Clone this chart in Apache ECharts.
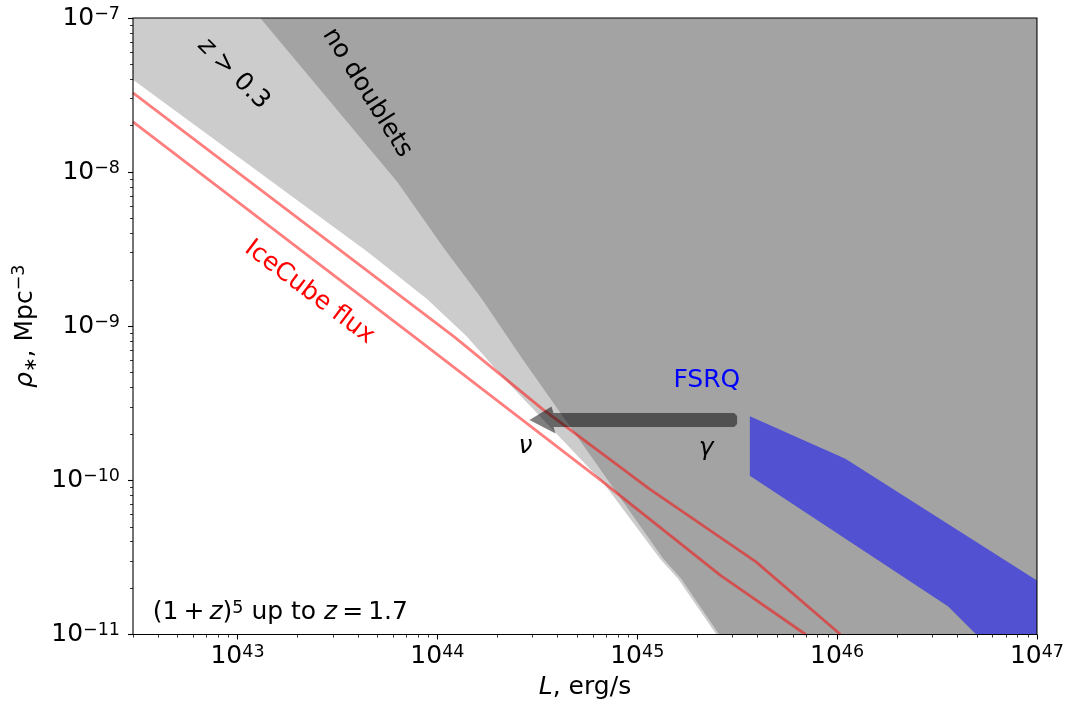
<!DOCTYPE html>
<html><head><meta charset="utf-8">
<script src="https://cdn.jsdelivr.net/npm/echarts@6/dist/echarts.min.js"></script>
<style>html,body{margin:0;padding:0;background:#fff}#c{width:1067px;height:705px}</style>
</head><body><div id="c"></div>
<script>
// ---- axis ranges & ticks ----
const xMin = 3e42, xMax = 1e47, yMin = 1e-11, yMax = 1e-7;
const xMajorTicks = [1e43, 1e44, 1e45, 1e46, 1e47];
const yMajorTicks = [1e-11, 1e-10, 1e-9, 1e-8, 1e-7];
const minorMultipliers = [2, 3, 4, 5, 6, 7, 8, 9];

// ---- data (L in erg/s, rho in Mpc^-3) ----
const redshiftBoundary = [[3e42,3.97e-8],[3.15e43,4.25e-9],[4.45e43,3.05e-9],[8.87e43,1.50e-9],[1.40e44,8.61e-10],[2.17e44,4.54e-10],[6.84e44,9.48e-11],[1.30e45,3.10e-11],[1.60e45,2.30e-11],[2.49e45,1e-11]];
const noDoubletsBoundary = [[1.30e43,1e-7],[6.28e43,8.69e-9],[1.09e44,3.15e-9],[1.67e44,1.50e-9],[2.67e44,6.11e-10],[1.35e45,3.10e-11],[1.66e45,2.30e-11],[2.57e45,1e-11]];
const iceCubeUpper = [[3e42,3.27e-8],[1.22e44,8.49e-10],[3.36e44,2.90e-10],[1.15e45,8.8e-11],[3.93e45,2.96e-11],[1.04e46,1e-11]];
const iceCubeLower = [[3e42,2.12e-8],[8.18e43,8.0e-10],[6.46e44,1.02e-10],[2.62e45,2.41e-11],[6.97e45,1e-11]];
const fsrqUpper = [[3.66e45,2.61e-10],[1.10e46,1.38e-10],[1e47,2.24e-11],[1e47,1e-11]];
const fsrqLower = [[3.66e45,1.07e-10],[3.60e46,1.52e-11],[4.97e46,1e-11]];
const arrowGammaToNu = { fromL: 3.16e45, toL: 2.89e44, rho: 2.46e-10 };

// annotation anchors (data coords)
const annotations = [
  { key: 'z03', L: 9.55e42, rho: 4.35e-8 },
  { key: 'nodoub', L: 4.45e43, rho: 3.27e-8 },
  { key: 'icecube', L: 2.29e43, rho: 1.66e-9 },
  { key: 'fsrq', L: 2.23e45, rho: 4.47e-10 },
  { key: 'nu', L: 2.76e44, rho: 1.67e-10 },
  { key: 'gamma', L: 2.21e45, rho: 1.62e-10 },
  { key: 'evol', L: 3.77e42, rho: 1.39e-11 }
];

const F = 'DejaVu Sans';
function minorTicks(lo, hi) {
  const out = [];
  for (let e = Math.floor(Math.log10(lo)); e < Math.ceil(Math.log10(hi)); e++) {
    for (const m of minorMultipliers) {
      const v = m * Math.pow(10, e);
      if (v >= lo * 0.9999 && v <= hi * 1.0001) out.push(v);
    }
  }
  return out;
}
const xMinor = minorTicks(xMin, xMax);
const yMinor = minorTicks(yMin, yMax);

const labelRich = {
  b: { fontSize: 25, fontFamily: F, color: '#000', lineHeight: 26 },
  s: { fontSize: 17.5, fontFamily: F, color: '#000', lineHeight: 16, verticalAlign: 'top' }
};
function powLabel(v) {
  const e = Math.round(Math.log10(v));
  return '{b|10}{s|' + (e < 0 ? '\u2212' + (-e) : e) + '}';
}
const tickStyle = { color: '#000', width: 1.1 };

function polySeries(pointsFn, color, z) {
  return {
    type: 'custom', coordinateSystem: 'cartesian2d', xAxisIndex: 0, yAxisIndex: 0,
    silent: true, z: z, data: [[xMin, yMin]],
    renderItem: (params, api) => ({
      type: 'polygon',
      shape: { points: pointsFn().map(p => api.coord(p)) },
      style: { fill: color }
    })
  };
}

const txt = (extra) => Object.assign({ fontFamily: F, fontSize: 25, fill: '#000', align: 'center', verticalAlign: 'middle' }, extra);
const italic = { fontFamily: F, fontSize: 25, fontStyle: 'italic' };
const normal = { fontFamily: F, fontSize: 25 };

const option = {
  animation: false,
  textStyle: { fontFamily: F },
  grid: { left: 133, right: 27, top: 18, bottom: 69, show: true, borderColor: '#000', borderWidth: 1.1, backgroundColor: 'transparent', z: 20 },
  xAxis: [
    { type: 'log', logBase: 10, min: xMin, max: xMax, position: 'bottom',
      axisLine: { show: false },
      axisTick: { show: true, customValues: xMajorTicks, length: 5, lineStyle: tickStyle },
      axisLabel: { show: true, customValues: xMajorTicks, formatter: powLabel, margin: 9, rich: labelRich },
      splitLine: { show: false }, minorTick: { show: false }, minorSplitLine: { show: false },
      name: '{i|L}{n|, erg/s}', nameLocation: 'middle', nameGap: 40,
      nameTextStyle: { rich: { i: Object.assign({ color: '#000', lineHeight: 26 }, italic), n: Object.assign({ color: '#000', lineHeight: 26 }, normal) } }
    },
    { type: 'log', logBase: 10, min: xMin, max: xMax, position: 'bottom',
      axisLine: { show: false },
      axisTick: { show: true, customValues: xMinor, length: 3, lineStyle: { color: '#000', width: 0.8 } },
      axisLabel: { show: false }, splitLine: { show: false }
    }
  ],
  yAxis: [
    { type: 'log', logBase: 10, min: yMin, max: yMax, position: 'left',
      axisLine: { show: false },
      axisTick: { show: true, customValues: yMajorTicks, length: 5, lineStyle: tickStyle },
      axisLabel: { show: true, customValues: yMajorTicks, formatter: powLabel, margin: 13, rich: labelRich },
      splitLine: { show: false }, minorTick: { show: false }, minorSplitLine: { show: false },
      name: '{i|\u03c1}{sub|\u2217}{n|, Mpc}{sup|\u22123}', nameLocation: 'middle', nameGap: 88, nameRotate: 90,
      nameTextStyle: { rich: {
        i: Object.assign({ color: '#000', lineHeight: 30 }, italic),
        sub: { fontFamily: F, fontSize: 17.5, color: '#000', lineHeight: 18, verticalAlign: 'bottom' },
        n: Object.assign({ color: '#000', lineHeight: 30 }, normal),
        sup: { fontFamily: F, fontSize: 17.5, color: '#000', lineHeight: 18, verticalAlign: 'top' }
      } }
    },
    { type: 'log', logBase: 10, min: yMin, max: yMax, position: 'left',
      axisLine: { show: false },
      axisTick: { show: true, customValues: yMinor, length: 3, lineStyle: { color: '#000', width: 0.8 } },
      axisLabel: { show: false }, splitLine: { show: false }
    }
  ],
  series: [
    polySeries(() => redshiftBoundary.concat([[xMax, yMin], [xMax, yMax], [xMin, yMax]]), '#cccccc', 1),
    polySeries(() => noDoubletsBoundary.concat([[xMax, yMin], [xMax, yMax]]), '#a3a3a3', 2),
    polySeries(() => fsrqUpper.concat(fsrqLower.slice().reverse()), 'rgba(0,0,255,0.5)', 3),
    { type: 'line', data: iceCubeUpper, xAxisIndex: 0, yAxisIndex: 0, symbol: 'none', silent: true, z: 4,
      lineStyle: { color: 'rgba(255,0,0,0.5)', width: 2.8 } },
    { type: 'line', data: iceCubeLower, xAxisIndex: 0, yAxisIndex: 0, symbol: 'none', silent: true, z: 4,
      lineStyle: { color: 'rgba(255,0,0,0.5)', width: 2.8 } },
    { type: 'custom', coordinateSystem: 'cartesian2d', xAxisIndex: 0, yAxisIndex: 0, silent: true, z: 5,
      data: [[arrowGammaToNu.fromL, arrowGammaToNu.rho]],
      renderItem: (params, api) => {
        const tip = api.coord([arrowGammaToNu.toL, arrowGammaToNu.rho]);
        const tail = api.coord([arrowGammaToNu.fromL, arrowGammaToNu.rho]);
        const y = tip[1], bh = 7, hh = 13.5, hl = 24;
        const hx = tip[0] + hl;
        return { type: 'polygon', shape: { points: [
          [tip[0], y], [hx - 2, y - hh], [hx, y - bh], [tail[0] - 3, y - bh], [tail[0], y - bh + 3],
          [tail[0], y + bh - 3], [tail[0] - 3, y + bh], [hx, y + bh], [hx + 2, y + hh]
        ] }, style: { fill: 'rgba(0,0,0,0.5)' } };
      }
    },
    { type: 'custom', coordinateSystem: 'cartesian2d', xAxisIndex: 0, yAxisIndex: 0, silent: true, z: 6,
      data: [[xMin, yMin]],
      renderItem: (params, api) => {
        const pos = {};
        annotations.forEach(a => { pos[a.key] = api.coord([a.L, a.rho]); });
        const deg = d => d * Math.PI / 180;
        const children = [
          { type: 'text', x: pos.z03[0], y: pos.z03[1], rotation: deg(-45),
            style: txt({ text: '{i|z}{n| > 0.3}', rich: { i: italic, n: normal } }) },
          { type: 'text', x: pos.nodoub[0], y: pos.nodoub[1], rotation: deg(-58),
            style: txt({ text: 'no doublets' }) },
          { type: 'text', x: pos.icecube[0], y: pos.icecube[1], rotation: deg(-37),
            style: txt({ text: 'IceCube flux', fill: '#ff0000' }) },
          { type: 'text', x: pos.fsrq[0], y: pos.fsrq[1],
            style: txt({ text: 'FSRQ', fill: '#0000ff' }) },
          { type: 'text', x: pos.nu[0], y: pos.nu[1],
            style: txt({ text: '\u03bd', fontStyle: 'italic' }) },
          { type: 'text', x: pos.gamma[0], y: pos.gamma[1],
            style: txt({ text: '\u03b3', fontStyle: 'italic' }) },
          { type: 'text', x: pos.evol[0], y: pos.evol[1],
            style: txt({ align: 'left', text: '{n|(1\u2009+\u2009}{i|z}{n|)}{s|5}{n| up to }{i|z}{n|\u2009=\u20091.7}',
              rich: { i: Object.assign({ lineHeight: 26 }, italic), n: Object.assign({ lineHeight: 26 }, normal),
                      s: { fontFamily: F, fontSize: 17.5, lineHeight: 16, verticalAlign: 'top' } } }) }
        ];
        return { type: 'group', children: children };
      }
    }
  ]
};
const chart = echarts.init(document.getElementById('c'));
chart.setOption(option);
</script></body></html>
